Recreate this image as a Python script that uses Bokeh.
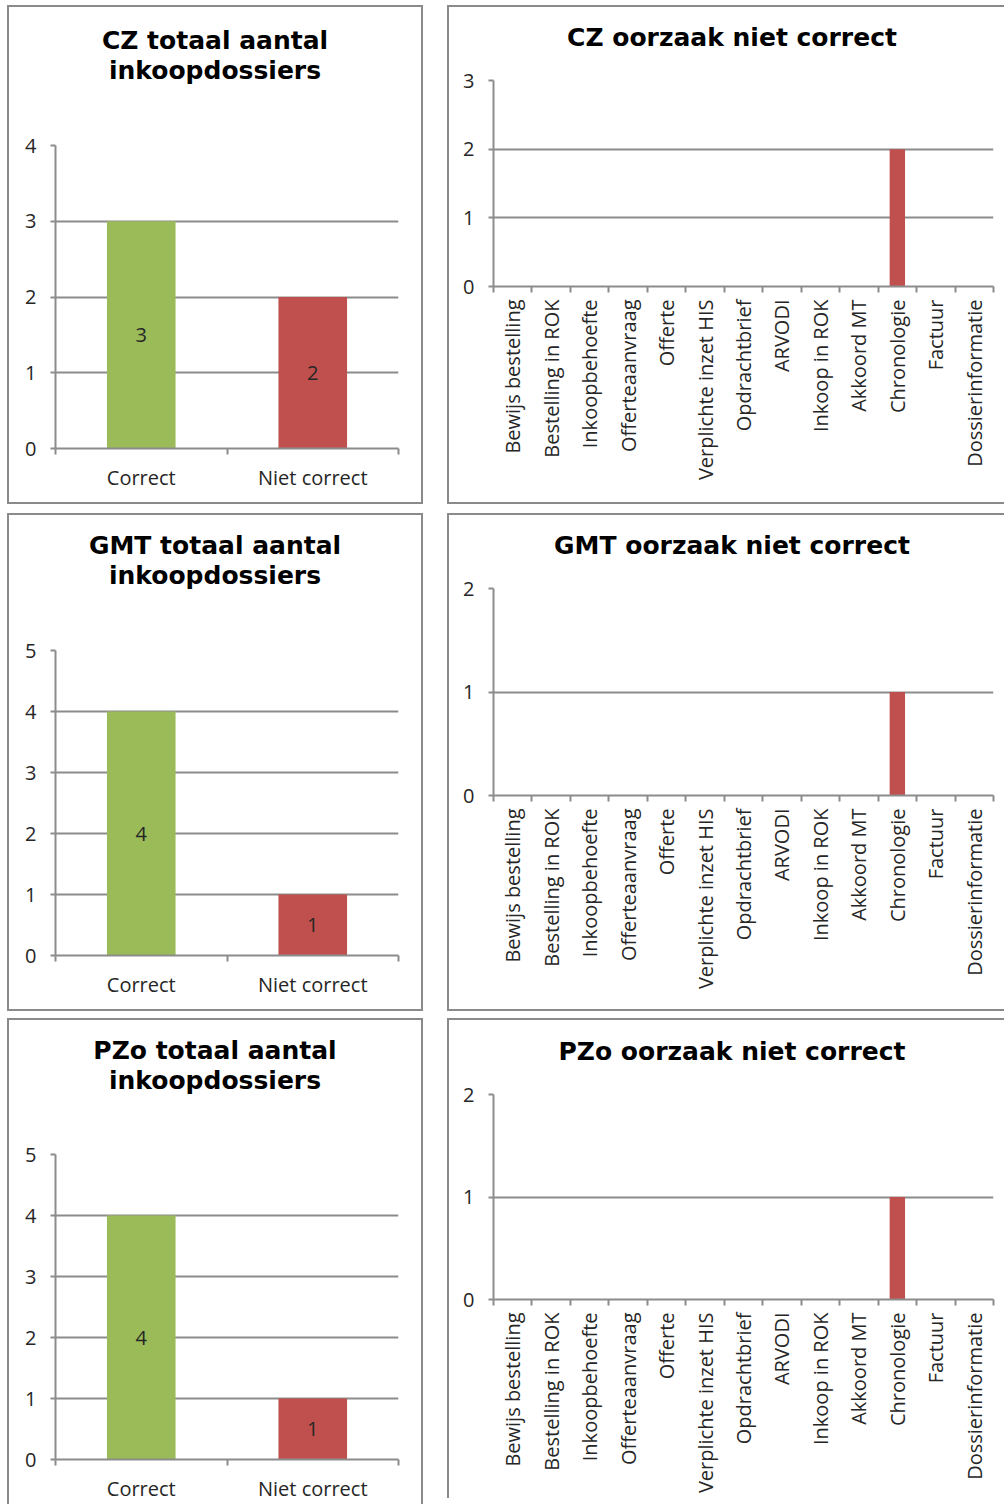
import math
from bokeh.plotting import figure
from bokeh.models import Range1d, FixedTicker, ColumnDataSource, Div
from bokeh.embed import file_html
from bokeh.resources import INLINE
from bokeh.core.properties import value

# ---------------- data ----------------
total_categories = ["Correct", "Niet correct"]
total_colors = ["#9BBB59", "#C0504D"]
cz_total = [3, 2]
gmt_total = [4, 1]
pzo_total = [4, 1]
total_ymax = [4, 5, 5]
total_titles = [["CZ totaal aantal", "inkoopdossiers"],
                ["GMT totaal aantal", "inkoopdossiers"],
                ["PZo totaal aantal", "inkoopdossiers"]]

cause_categories = ["Bewijs bestelling", "Bestelling in ROK", "Inkoopbehoefte",
                    "Offerteaanvraag", "Offerte", "Verplichte inzet HIS",
                    "Opdrachtbrief", "ARVODI", "Inkoop in ROK", "Akkoord MT",
                    "Chronologie", "Factuur", "Dossierinformatie"]
cz_causes = [0, 0, 0, 0, 0, 0, 0, 0, 0, 0, 2, 0, 0]
gmt_causes = [0, 0, 0, 0, 0, 0, 0, 0, 0, 0, 1, 0, 0]
pzo_causes = [0, 0, 0, 0, 0, 0, 0, 0, 0, 0, 1, 0, 0]
cause_ymax = [3, 2, 2]
cause_titles = ["CZ oorzaak niet correct",
                "GMT oorzaak niet correct",
                "PZo oorzaak niet correct"]

# ---------------- style ----------------
GRID = "#8c8c8c"
BORDER = "#8a8a8a"
TXT = "#262626"
TICK_FONT = "Open Sans"
TITLE_FONT = "DejaVu Sans"
FS = "20px"


def style_axes(p, xlabels, vertical=False):
    n = len(xlabels)
    centers = [i + 0.5 for i in range(n)]
    p.xaxis.ticker = FixedTicker(ticks=centers, minor_ticks=list(range(n + 1)))
    p.xaxis.major_label_overrides = {c: lab for c, lab in zip(centers, xlabels)}
    p.xaxis.major_tick_out = 0
    p.xaxis.major_tick_in = 0
    p.xaxis.minor_tick_out = 6
    p.xaxis.minor_tick_in = 0
    p.xaxis.minor_tick_line_color = GRID
    p.xaxis.minor_tick_line_width = 2
    p.xaxis.axis_line_color = GRID
    p.xaxis.axis_line_width = 2
    p.xaxis.major_label_text_font = TICK_FONT
    p.xaxis.major_label_text_font_size = FS
    p.xaxis.major_label_text_color = TXT
    if vertical:
        p.xaxis.major_label_orientation = math.pi / 2
        p.xaxis.major_label_standoff = 7
    else:
        p.xaxis.major_label_standoff = 9

    p.yaxis.axis_line_color = GRID
    p.yaxis.axis_line_width = 2
    p.yaxis.major_tick_line_color = GRID
    p.yaxis.major_tick_line_width = 2
    p.yaxis.major_tick_out = 5
    p.yaxis.major_tick_in = 0
    p.yaxis.minor_tick_line_color = None
    p.yaxis.major_label_standoff = 14
    p.yaxis.major_label_text_font = TICK_FONT
    p.yaxis.major_label_text_font_size = FS
    p.yaxis.major_label_text_color = TXT

    p.xgrid.grid_line_color = None
    p.ygrid.grid_line_color = GRID
    p.ygrid.grid_line_width = 2
    p.outline_line_color = None


def panel_styles(left, top, last, right=True):
    b = "2px solid " + BORDER
    st = {"position": "absolute", "left": f"{left}px", "top": f"{top}px",
          "box-sizing": "content-box", "border-left": b, "border-top": b}
    if right:
        st["border-right"] = b
    if not last:
        st["border-bottom"] = b
    return st


def title_div(lines, left, top, width, size):
    return Div(text="<br>".join(lines), width=width,
               styles={"position": "absolute", "left": f"{left}px", "top": f"{top}px",
                       "text-align": "center", "font-family": TITLE_FONT,
                       "font-weight": "bold", "font-size": size,
                       "line-height": "30px", "color": "#000000",
                       "white-space": "nowrap"})


def total_panel(vals, ymax, top, fh, bottom, pos, last=False):
    p = figure(frame_width=343, frame_height=fh,
               min_border_left=46, min_border_right=23,
               min_border_top=top, min_border_bottom=bottom,
               x_range=Range1d(0, len(total_categories)), y_range=Range1d(0, ymax),
               output_backend="svg", toolbar_location=None,
               background_fill_color="white", border_fill_color="white")
    src = ColumnDataSource(dict(
        x=[i + 0.5 for i in range(len(vals))],
        top=vals,
        mid=[v / 2 for v in vals],
        label=[str(v) for v in vals],
        color=total_colors,
    ))
    p.vbar(x="x", top="top", width=0.4, bottom=0, fill_color="color",
           line_color=None, source=src)
    p.text(x="x", y="mid", text="label", text_align="center",
           text_baseline="middle", text_font=value(TICK_FONT),
           text_font_size=FS, text_color=TXT, source=src)
    style_axes(p, total_categories)
    p.yaxis.ticker = FixedTicker(ticks=list(range(ymax + 1)))
    p.styles = panel_styles(pos[0], pos[1], last)
    return p


def cause_panel(vals, ymax, top, fh, bottom, pos, last=False):
    p = figure(frame_width=500, frame_height=fh,
               min_border_left=44, min_border_right=11,
               min_border_top=top, min_border_bottom=bottom,
               x_range=Range1d(0, len(cause_categories)), y_range=Range1d(0, ymax),
               output_backend="svg", toolbar_location=None,
               background_fill_color="white", border_fill_color="white")
    src = ColumnDataSource(dict(
        x=[i + 0.5 for i in range(len(vals))],
        top=vals,
    ))
    p.vbar(x="x", top="top", width=0.4, bottom=0, fill_color="#C0504D",
           line_color=None, source=src)
    style_axes(p, cause_categories, vertical=True)
    p.yaxis.ticker = FixedTicker(ticks=list(range(ymax + 1)))
    p.styles = panel_styles(pos[0], pos[1], last, right=False)
    return p


l1 = total_panel(cz_total, total_ymax[0], 138, 303, 54, (7, 5))
l2 = total_panel(gmt_total, total_ymax[1], 135, 305, 54, (7, 513))
l3 = total_panel(pzo_total, total_ymax[2], 134, 305, 39, (7, 1018), last=True)
r1 = cause_panel(cz_causes, cause_ymax[0], 73, 206, 216, (447, 5))
r2 = cause_panel(gmt_causes, cause_ymax[1], 73, 207, 214, (447, 513))
r3 = cause_panel(pzo_causes, cause_ymax[2], 74, 205, 199, (447, 1018), last=True)

t1 = title_div(total_titles[0], 4, 21, 412, "25px")
t2 = title_div(total_titles[1], 4, 526, 412, "25px")
t3 = title_div(total_titles[2], 4, 1031, 412, "25px")
t4 = title_div([cause_titles[0]], 455, 18, 544, "25px")
t5 = title_div([cause_titles[1]], 455, 526, 544, "25px")
t6 = title_div([cause_titles[2]], 455, 1032, 544, "25px")

models = [l1, r1, l2, r2, l3, r3, t1, t2, t3, t4, t5, t6]
open("out.html", "w").write(file_html(models, INLINE))
